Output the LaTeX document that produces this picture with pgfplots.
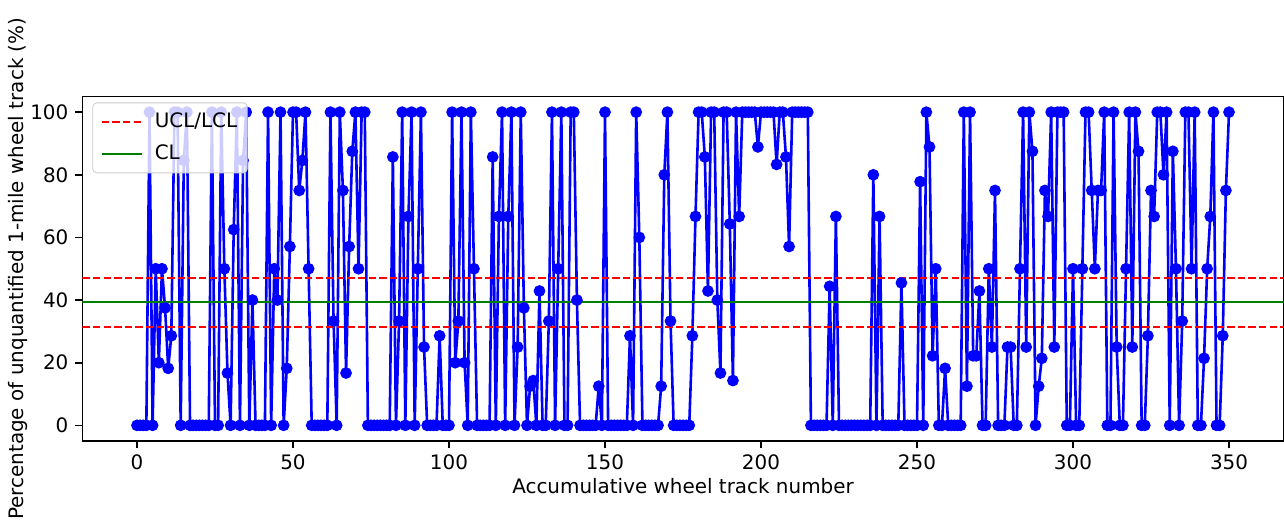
\documentclass[border=0pt]{standalone}
\usepackage{fontspec}
\setmainfont{DejaVu Sans}
\usepackage{pgfplots}
\pgfplotsset{compat=1.18}
\usetikzlibrary{calc}
\definecolor{mplgreen}{rgb}{0,0.5,0}
\definecolor{legedge}{rgb}{0.8,0.8,0.8}
\begin{document}
\fontsize{10}{12}\selectfont
\begin{tikzpicture}
\begin{axis}[name=ax, scale only axis, width=600.6bp, height=172.25bp,
 xmin=-17.5, xmax=367.5, ymin=-5, ymax=105,
 xtick={0,50,...,350}, ytick={0,20,...,100},
 tick pos=left, tick align=outside, major tick length=3.5bp,
 every tick/.style={black, line width=0.8bp},
 axis line style={line width=0.8bp},
 /pgf/number format/assume math mode=true,
 ticklabel style={font=\fontsize{10}{12}\selectfont},
 xlabel={Accumulative wheel track number},
 ylabel={Percentage of unquantified 1-mile wheel track (\%)},
 label style={font=\fontsize{10}{12}\selectfont},
 xlabel style={at={(axis description cs:0.5,-0.1306)}, anchor=center},
 ylabel style={at={(axis description cs:-0.05361,0.5)}, anchor=center},
 legend style={at={(axis description cs:0,1)}, xshift=5bp, yshift=-3bp, anchor=north west,
   fill=white, fill opacity=0.8, draw opacity=1, text opacity=1, draw=legedge,
   rounded corners=2bp, inner xsep=4bp, inner ysep=3bp, row sep=3bp, column sep=5bp,
   font=\fontsize{10}{12}\selectfont,
   nodes={inner sep=1bp, text height=8.5bp, text depth=2.5bp}},
 legend cell align=left,
 legend image code/.code={\draw[#1] (0bp,0bp) -- (20bp,0bp);},
]
\addplot[blue, line width=1.3bp, mark=*, mark size=2.25bp, mark options={solid, fill=blue, draw=blue}, forget plot] coordinates {
(0,0)(1,0)(2,0)(3,0)(4,100)(5,0)(6,50)(7,20)(8,50)(9,37.5)
(10,18.2)(11,28.6)(12,100)(13,100)(14,0)(15,84.6)(16,100)(17,0)(18,0)(19,0)
(20,0)(21,0)(22,0)(23,0)(24,100)(25,0)(26,0)(27,100)(28,50)(29,16.7)
(30,0)(31,62.5)(32,100)(33,0)(34,84.6)(35,100)(36,0)(37,40)(38,0)(39,0)
(40,0)(41,0)(42,100)(43,0)(44,50)(45,40)(46,100)(47,0)(48,18.2)(49,57.1)
(50,100)(51,100)(52,75)(53,84.6)(54,100)(55,50)(56,0)(57,0)(58,0)(59,0)
(60,0)(61,0)(62,100)(63,33.3)(64,0)(65,100)(66,75)(67,16.7)(68,57.1)(69,87.5)
(70,100)(71,50)(72,100)(73,100)(74,0)(75,0)(76,0)(77,0)(78,0)(79,0)
(80,0)(81,0)(82,85.7)(83,0)(84,33.3)(85,100)(86,0)(87,66.7)(88,100)(89,0)
(90,50)(91,100)(92,25)(93,0)(94,0)(95,0)(96,0)(97,28.6)(98,0)(99,0)
(100,0)(101,100)(102,20)(103,33.3)(104,100)(105,20)(106,0)(107,100)(108,50)(109,0)
(110,0)(111,0)(112,0)(113,0)(114,85.7)(115,0)(116,66.7)(117,100)(118,0)(119,66.7)
(120,100)(121,0)(122,25)(123,100)(124,37.5)(125,0)(126,12.5)(127,14.3)(128,0)(129,42.9)
(130,0)(131,0)(132,33.3)(133,100)(134,0)(135,50)(136,100)(137,0)(138,0)(139,100)
(140,100)(141,40)(142,0)(143,0)(144,0)(145,0)(146,0)(147,0)(148,12.5)(149,0)
(150,100)(151,0)(152,0)(153,0)(154,0)(155,0)(156,0)(157,0)(158,28.6)(159,0)
(160,100)(161,60)(162,0)(163,0)(164,0)(165,0)(166,0)(167,0)(168,12.5)(169,80)
(170,100)(171,33.3)(172,0)(173,0)(174,0)(175,0)(176,0)(177,0)(178,28.6)(179,66.7)
(180,100)(181,100)(182,85.7)(183,42.9)(184,100)(185,100)(186,40)(187,16.7)(188,100)(189,100)
(190,64.3)(191,14.3)(192,100)(193,66.7)(194,100)(195,100)(196,100)(197,100)(198,100)(199,88.9)
(200,100)(201,100)(202,100)(203,100)(204,100)(205,83.3)(206,100)(207,100)(208,85.7)(209,57.1)
(210,100)(211,100)(212,100)(213,100)(214,100)(215,100)(216,0)(217,0)(218,0)(219,0)
(220,0)(221,0)(222,44.4)(223,0)(224,66.7)(225,0)(226,0)(227,0)(228,0)(229,0)
(230,0)(231,0)(232,0)(233,0)(234,0)(235,0)(236,80)(237,0)(238,66.7)(239,0)
(240,0)(241,0)(242,0)(243,0)(244,0)(245,45.5)(246,0)(247,0)(248,0)(249,0)
(250,0)(251,77.8)(252,0)(253,100)(254,88.9)(255,22.2)(256,50)(257,0)(258,0)(259,18.2)
(260,0)(261,0)(262,0)(263,0)(264,0)(265,100)(266,12.5)(267,100)(268,22.2)(269,22.2)
(270,42.9)(271,0)(272,0)(273,50)(274,25)(275,75)(276,0)(277,0)(278,0)(279,25)
(280,25)(281,0)(282,0)(283,50)(284,100)(285,25)(286,100)(287,87.5)(288,0)(289,12.5)
(290,21.4)(291,75)(292,66.7)(293,100)(294,25)(295,100)(296,100)(297,100)(298,0)(299,0)
(300,50)(301,0)(302,0)(303,50)(304,100)(305,100)(306,75)(307,50)(308,75)(309,75)
(310,100)(311,0)(312,0)(313,100)(314,25)(315,0)(316,0)(317,50)(318,100)(319,25)
(320,100)(321,87.5)(322,0)(323,0)(324,28.6)(325,75)(326,66.7)(327,100)(328,100)(329,80)
(330,100)(331,0)(332,87.5)(333,50)(334,0)(335,33.3)(336,100)(337,100)(338,50)(339,100)
(340,0)(341,0)(342,21.4)(343,50)(344,66.7)(345,100)(346,0)(347,0)(348,28.6)(349,75)
(350,100)
};
\addplot[red, line width=1bp, dash pattern=on 3.7bp off 1.6bp] coordinates {(-17.5,47.2) (367.5,47.2)};
\addlegendentry{UCL/LCL}
\addplot[red, line width=1bp, dash pattern=on 3.7bp off 1.6bp, forget plot] coordinates {(-17.5,31.4) (367.5,31.4)};
\addplot[mplgreen, line width=1bp] coordinates {(-17.5,39.3) (367.5,39.3)};
\addlegendentry{CL}
\end{axis}
\pgfresetboundingbox
\path[use as bounding box] ($(ax.south west)+(-41.2bp,-43bp)$) rectangle ($(ax.north east)+(0.2bp,48.25bp)$);
\end{tikzpicture}
\end{document}
